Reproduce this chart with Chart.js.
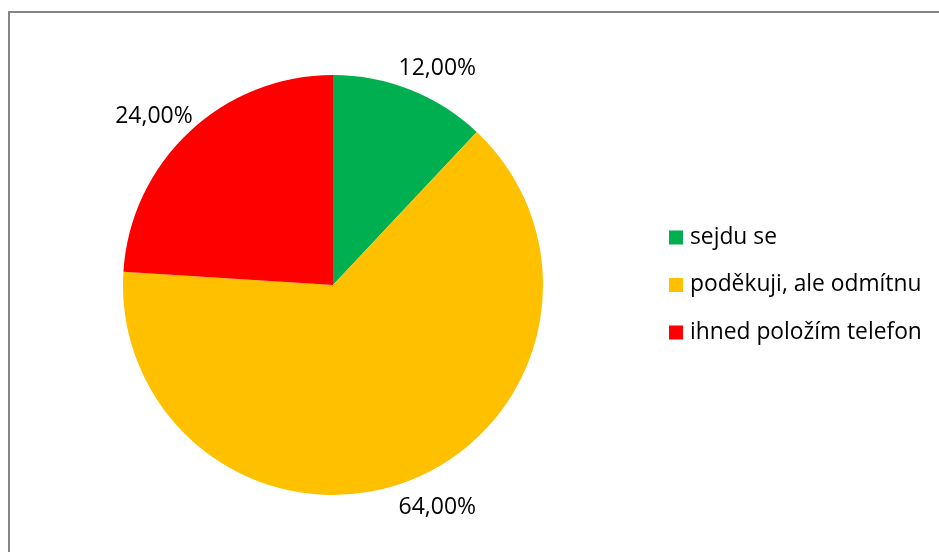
<!DOCTYPE html>
<html>
<head>
<meta charset="utf-8">
<script src="https://cdn.jsdelivr.net/npm/chart.js@4"></script>
<style>
  html, body { margin: 0; padding: 0; background: #fff; }
  #wrap { width: 939px; height: 552px; }
</style>
</head>
<body>
<div id="wrap"><canvas id="pieChart" width="939" height="552"></canvas></div>
<script>
// data
const categories = ['sejdu se', 'poděkuji, ale odmítnu', 'ihned položím telefon'];
const shares = [12, 64, 24];
const sliceColors = ['#00B050', '#FFC000', '#FF0000'];

const FONT = '"Open Sans", "Noto Sans", sans-serif';

function fmtPct(v) {
    return v.toFixed(2).replace('.', ',') + '%';
}

// frame lines (top + left of the chart box)
const framePlugin = {
    id: 'frame',
    beforeDraw(chart) {
        const ctx = chart.ctx;
        ctx.save();
        ctx.strokeStyle = '#868686';
        ctx.lineWidth = 2;
        ctx.beginPath();
        ctx.moveTo(9, chart.height);
        ctx.lineTo(9, 12);
        ctx.lineTo(chart.width, 12);
        ctx.stroke();
        ctx.restore();
    }
};

// percentage labels outside each slice
const outsideLabels = {
    id: 'outsideLabels',
    afterDatasetsDraw(chart) {
        const ctx = chart.ctx;
        const meta = chart.getDatasetMeta(0);
        const total = shares.reduce((a, b) => a + b, 0);
        ctx.save();
        ctx.font = '23px ' + FONT;
        ctx.fillStyle = '#000';
        ctx.textAlign = 'center';
        ctx.textBaseline = 'middle';
        meta.data.forEach((arc, i) => {
            const mid = (arc.startAngle + arc.endAngle) / 2;
            const dx = Math.cos(mid), dy = Math.sin(mid);
            const txt = fmtPct(shares[i] / total * 100);
            const halfW = ctx.measureText(txt).width / 2;
            const r = arc.outerRadius + 26;
            const x = arc.x + r * dx + Math.sign(dx) * halfW * 0.45;
            const y = arc.y + r * dy + 3;
            ctx.fillText(txt, x, y);
        });
        ctx.restore();
    }
};

// legend on the right
const sideLegend = {
    id: 'sideLegend',
    afterDraw(chart) {
        const ctx = chart.ctx;
        const ds = chart.data.datasets[0];
        const rowGap = 47.5;
        const midY = chart.chartArea.top + chart.chartArea.height / 2;
        const startY = midY - rowGap * (categories.length - 1) / 2;
        const boxX = 669, box = 14;
        ctx.save();
        ctx.font = '22.8px ' + FONT;
        ctx.textBaseline = 'middle';
        ctx.textAlign = 'left';
        chart.data.labels.forEach((lab, i) => {
            const y = startY + i * rowGap;
            ctx.fillStyle = ds.backgroundColor[i];
            ctx.fillRect(boxX, y - box / 2, box, box);
            ctx.fillStyle = '#000';
            ctx.fillText(lab, boxX + box + 7, y);
        });
        ctx.restore();
    }
};

new Chart(document.getElementById('pieChart'), {
    type: 'pie',
    data: {
        labels: categories,
        datasets: [{
            data: shares,
            backgroundColor: sliceColors,
            borderWidth: 0
        }]
    },
    options: {
        responsive: false,
        animation: false,
        events: [],
        layout: {
            padding: { left: 123, right: 396, top: 75, bottom: 57 }
        },
        plugins: {
            legend: { display: false },
            tooltip: { enabled: false }
        }
    },
    plugins: [framePlugin, outsideLabels, sideLegend]
});
</script>
</body>
</html>
